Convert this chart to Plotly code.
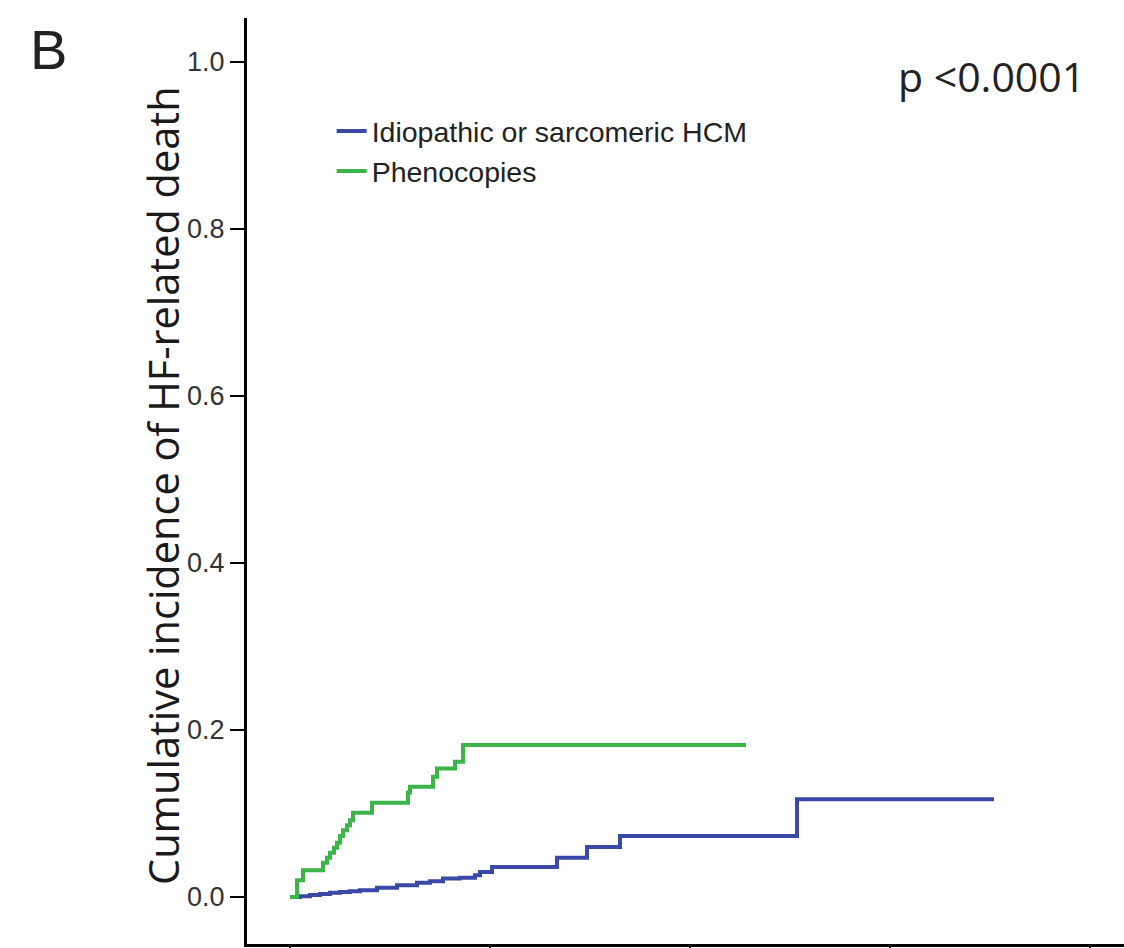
import plotly.graph_objects as go

# Data (time in years, cumulative incidence)
pheno_t = [0, 0.175, 0.325, 0.825, 0.925, 1.0, 1.1, 1.175, 1.25, 1.325, 1.425, 1.5, 1.575,
           2.05, 2.95, 3.0, 3.575, 3.675, 4.125, 4.325, 11.4]
pheno_y = [0, 0.020, 0.032, 0.041, 0.047, 0.053, 0.059, 0.065, 0.073, 0.080, 0.086, 0.092, 0.101,
           0.113, 0.125, 0.132, 0.144, 0.154, 0.162, 0.182, 0.182]

hcm_t = [0, 0.25, 0.5, 0.75, 1.0, 1.25, 1.5, 1.75, 2.175, 2.675, 3.175, 3.5, 3.825, 4.25,
         4.625, 4.75, 5.05, 6.675, 7.425, 8.25, 12.675, 17.6]
hcm_y = [0, 0.001, 0.0024, 0.0036, 0.005, 0.006, 0.007, 0.008, 0.011, 0.014, 0.017, 0.019, 0.022,
         0.023, 0.026, 0.030, 0.036, 0.047, 0.060, 0.073, 0.117, 0.117]

y_ticks = [0.0, 0.2, 0.4, 0.6, 0.8, 1.0]
y_ticktext = ["0.0", "0.2", "0.4", "0.6", "0.8", "1.0"]
x_ticks = [0, 5, 10, 15, 20]

series_names = ["Idiopathic or sarcomeric HCM", "Phenocopies"]
colors = ["#3a48a6", "#3cb449"]

fig = go.Figure()
fig.add_trace(go.Scatter(x=hcm_t, y=hcm_y, mode="lines", line=dict(shape="hv", color=colors[0], width=4),
                         name=series_names[0]))
fig.add_trace(go.Scatter(x=pheno_t, y=pheno_y, mode="lines", line=dict(shape="hv", color=colors[1], width=4),
                         name=series_names[1]))

fig.update_layout(
    width=1124, height=948,
    margin=dict(l=247, r=0, t=18, b=4, autoexpand=False),
    plot_bgcolor="white", paper_bgcolor="white",
    showlegend=True,
    legend=dict(x=0.0965, y=0.905, xanchor="left", yanchor="top",
                font=dict(family="Liberation Sans", size=28.5, color="#222"),
                bgcolor="rgba(0,0,0,0)", itemwidth=30, tracegroupgap=0),
    xaxis=dict(range=[-1.075, 20.85], showline=True, linecolor="black", linewidth=3,
               tickvals=x_ticks, showticklabels=False, ticks="outside", ticklen=10, tickwidth=2,
               tickcolor="black", showgrid=False, zeroline=False, automargin=False),
    yaxis=dict(range=[-0.0563, 1.0527], showline=True, linecolor="black", linewidth=3,
               tickvals=y_ticks, ticktext=y_ticktext, ticks="outside", ticklen=14, tickwidth=2,
               tickcolor="black", showgrid=False, zeroline=False, automargin=False,
               tickfont=dict(family="Liberation Sans", size=27, color="#333")),
    annotations=[
        dict(text="B", x=-0.2258, y=0.9665, xref="paper", yref="paper", showarrow=False,
             xanchor="center", yanchor="middle",
             font=dict(family="Liberation Sans", size=56, color="#222")),
        dict(text="p <0.0001", x=0.849, y=0.937, xref="paper", yref="paper", showarrow=False,
             xanchor="center", yanchor="middle",
             font=dict(family="Open Sans", size=41, color="#222")),
        dict(text="Cumulative incidence of HF-related death", x=-0.0965, y=0.495,
             xref="paper", yref="paper", showarrow=False, textangle=-90,
             xanchor="center", yanchor="middle",
             font=dict(family="Open Sans", size=41.5, color="#1a1a1a")),
    ],
)

fig.write_html(
    "out.html",
    config={"displayModeBar": False},
    post_script=(
        "document.body.style.margin='0';"
        "document.body.style.overflow='hidden';"
        "document.documentElement.style.overflow='hidden';"
    ),
)
